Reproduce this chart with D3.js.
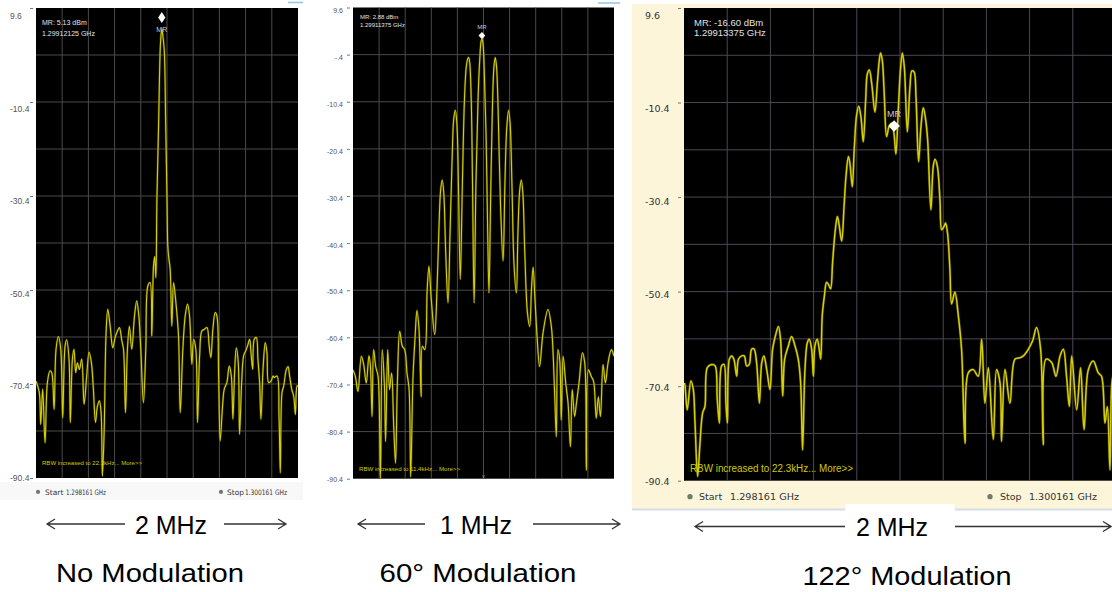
<!DOCTYPE html>
<html>
<head>
<meta charset="utf-8">
<script src="https://cdn.jsdelivr.net/npm/d3@7"></script>
<style>
  body { margin: 0; background: #fff; }
  svg { display: block; }
</style>
</head>
<body>
<div id="svg-container"></div>
<script>
////////////////////////////////////////////////////////////////////
////////////////////////////  Data  ////////////////////////////////
// frequency offset from start (kHz), level (dBm)
const noModTrace = [
  [0,-69.8],[25,-72.2],[36,-79.0],[51,-71.5],[69,-82.9],[87,-70.1],[107,-67.6],[120,-68.0],
  [138,-75.8],[153,-63.0],[171,-60.3],[189,-63.0],[204,-77.6],[222,-62.3],[234,-61.0],[252,-65.1],
  [262,-78.6],[278,-65.1],[290,-63.0],[303,-68.0],[316,-65.9],[331,-67.3],[349,-65.1],[367,-74.7],
  [387,-68.7],[405,-63.6],[423,-65.9],[438,-71.5],[454,-78.6],[469,-75.1],[484,-74.0],[497,-76.5],
  [507,-90.0],[520,-80.7],[535,-59.5],[548,-54.5],[566,-58.1],[586,-62.7],[604,-60.5],[622,-59.1],
  [637,-58.4],[655,-61.2],[668,-63.0],[683,-76.5],[698,-63.0],[713,-58.1],[731,-63.0],[752,-55.9],
  [769,-52.7],[785,-55.9],[800,-63.0],[820,-74.4],[838,-63.0],[854,-49.5],[871,-48.8],[884,-60.2],
  [897,-45.3],[906,-43.3],[915,-47.8],[923,-31],[936,-15],[948,0.7],[955,4],[961,5.13],[967,4],
  [979,0.7],[990,-15],[1000,-31],[1006,-41],[1012,-43.2],[1024,-46.0],[1037,-58.1],[1050,-48.8],
  [1068,-53.1],[1088,-60.2],[1101,-76.5],[1121,-63.0],[1139,-55.9],[1157,-53.4],[1172,-55.9],
  [1190,-66.2],[1203,-60.9],[1220,-63.0],[1233,-78.6],[1249,-64.4],[1266,-59.1],[1284,-58.8],
  [1305,-58.4],[1322,-62.3],[1335,-64.8],[1350,-58.8],[1368,-55.2],[1381,-55.9],[1394,-68.7],
  [1406,-82.5],[1424,-75.1],[1437,-71.5],[1457,-70.1],[1475,-66.6],[1491,-68.7],[1503,-77.9],
  [1516,-68.0],[1529,-62.7],[1544,-65.9],[1554,-81.1],[1570,-70.1],[1585,-64.4],[1600,-63.4],
  [1615,-62.3],[1631,-60.9],[1641,-63.7],[1654,-67.3],[1666,-60.9],[1682,-60.5],[1694,-65.1],
  [1707,-70.1],[1717,-77.9],[1733,-67.3],[1750,-61.6],[1763,-63.7],[1776,-70.1],[1794,-69.8],
  [1809,-68.7],[1819,-69.0],[1840,-68.7],[1855,-77.2],[1865,-89.3],[1878,-72.2],[1891,-70.8],
  [1911,-67.3],[1924,-66.7],[1936,-68.7],[1952,-71.5],[1967,-73.0],[1980,-76.9],[1993,-70.8],[2000,-70.8]
];

const mod60Trace = [
  [0,-67.3],[9,-68.7],[19,-71.9],[32,-64.4],[41,-66.2],[51,-70.1],[61,-64.3],[66,-65.9],[73,-77.2],
  [79,-63.0],[87,-66.6],[96,-68.7],[105,-90.4],[112,-63.0],[120,-70.1],[125,-82.5],[133,-63.0],
  [140,-71.5],[148,-68.0],[156,-79.3],[163,-87.1],[170,-70.1],[179,-59.1],[189,-62.3],[198,-63.0],
  [207,-68.0],[215,-71.5],[221,-90.0],[230,-68.7],[238,-60.2],[245,-54.7],[253,-58.8],[261,-73.0],
  [266,-62.3],[275,-63.0],[284,-50.5],[291,-45.3],[300,-52.4],[313,-59.8],[322,-50],[330,-36],
  [336,-29],[342,-27.0],[348,-30],[355,-42],[364,-53.1],[372,-38],[380,-22],[386,-14],[392,-12.2],
  [398,-15],[404,-28],[411,-48.1],[419,-28],[427,-10],[434,-3],[440,-1.2],[443,-1.0],[447,-2],
  [453,-10],[458,-28],[464,-53.1],[471,-28],[479,-10],[486,-1],[491,2.5],[494,2.9],[498,2],
  [503,-4],[510,-18],[516,-38],[521,-51.0],[527,-32],[534,-12],[540,-3],[545,-1.0],[550,-3],
  [556,-12],[565,-32],[575,-44.2],[582,-28],[589,-16],[596,-12.2],[602,-15],[609,-28],[617,-45],
  [626,-51.0],[632,-38],[639,-29],[645,-27.0],[651,-30],[658,-42],[668,-55],[677,-58.1],[684,-50],
  [690,-45.5],[697,-52],[705,-60],[715,-66.6],[728,-59.5],[747,-54.5],[760,-58.1],[772,-71.5],
  [779,-81.5],[785,-63.0],[792,-65.2],[798,-78],[805,-64.4],[815,-70.1],[824,-74.4],[833,-83.6],
  [840,-71.5],[849,-77.2],[856,-74.4],[866,-70.1],[879,-63.7],[888,-65.9],[894,-88.6],[902,-67.3],
  [913,-68.7],[922,-69.8],[932,-77.6],[940,-73.0],[948,-77.2],[958,-66.2],[967,-70.1],[977,-65.9],
  [990,-63.0],[1000,-64.4]
];

const mod122Trace = [
  [2,-69.7],[5,-70.4],[15,-75.4],[32,-69.3],[43,-71.1],[51,-78.2],[63,-89.5],[74,-82.5],[86,-76.1],
  [97,-74.7],[108,-66.5],[129,-65.8],[144,-66.1],[154,-73.2],[164,-78.2],[174,-66.1],[185,-65.8],
  [194,-74.0],[201,-78.2],[210,-64.7],[221,-64.0],[231,-64.7],[244,-68.3],[252,-64.7],[267,-64.0],
  [279,-64.0],[290,-66.1],[302,-65.8],[313,-62.6],[324,-62.5],[336,-65.4],[349,-74.0],[360,-65.4],
  [370,-64.0],[383,-66.9],[398,-71.1],[410,-62.6],[423,-59.8],[437,-57.8],[447,-60.5],[457,-72.5],
  [466,-64.7],[483,-61.9],[498,-59.9],[514,-61.9],[529,-64.7],[540,-69.7],[549,-83.9],[560,-66.9],
  [571,-61.2],[580,-60.5],[591,-62.6],[599,-68.3],[606,-61.9],[617,-60.5],[626,-62.6],[633,-64.7],
  [640,-55.5],[650,-51.3],[660,-48.4],[671,-49.1],[679,-49.8],[688,-44.2],[699,-38.0],[710,-34.5],
  [719,-36.6],[730,-39.7],[741,-32.4],[750,-26.0],[761,-21.8],[768,-23.2],[779,-28.2],[788,-20.4],
  [799,-13.1],[809,-11.2],[819,-13.4],[830,-18.7],[841,-9.9],[849,-4.3],[858,-3.5],[869,-6.4],
  [884,-12.4],[895,-6.4],[904,-1.5],[910,0.1],[918,-1.5],[927,-8.5],[938,-17.6],[949,-15.5],
  [961,-14.8],[972,-16.9],[981,-21.3],[992,-12.0],[1003,-2.9],[1011,0.1],[1020,-2.9],[1034,-16.6],
  [1046,-7.1],[1055,-3.7],[1065,-3.9],[1074,-9.2],[1086,-22.9],[1097,-15.5],[1108,-11.5],[1119,-14.1],
  [1128,-18.3],[1143,-33.1],[1154,-23.9],[1162,-22.4],[1173,-23.9],[1185,-31.0],[1193,-37.3],
  [1204,-36.6],[1211,-35.9],[1220,-38.0],[1231,-45.6],[1239,-53.0],[1254,-50.5],[1270,-55.5],
  [1285,-62.6],[1301,-82.5],[1316,-67.6],[1339,-66.9],[1362,-68.3],[1378,-60.5],[1393,-74.0],
  [1409,-66.5],[1432,-81.7],[1447,-66.9],[1463,-69.7],[1470,-82.1],[1486,-66.9],[1509,-74.0],
  [1532,-64.7],[1555,-64.4],[1571,-64.0],[1594,-62.6],[1614,-60.8],[1632,-58.0],[1651,-62.6],
  [1663,-82.8],[1676,-64.7],[1702,-65.4],[1722,-68.3],[1741,-64.0],[1756,-62.6],[1771,-68.3],
  [1784,-74.7],[1795,-64.0],[1818,-75.4],[1836,-66.5],[1852,-79.6],[1872,-66.9],[1895,-65.1],
  [1918,-67.6],[1933,-68.3],[1949,-78.2],[1960,-74.7],[1972,-88.1],[1981,-69.7],[1990,-67.5]
];

// markers: [kHz offset, dBm]
const markerPoints = [[960.25, 5.13], [494, 2.88], [972.75, -16.60]];
const markerTexts = [
  ["MR: 5.13 dBm", "1.29912125 GHz"],
  ["MR: 2.88 dBm", "1.29911375 GHz"],
  ["MR: -16.60 dBm", "1.29913375 GHz"]
];
const rbwTexts = [
  "RBW increased to 22.3kHz... More>>",
  "RBW increased to 11.4kHz... More>>",
  "RBW increased to 22.3kHz... More>>"
];
const startStop = ["1.298161 GHz", "1.300161 GHz"];
const spans = ["2 MHz", "1 MHz", "2 MHz"];
const titles = ["No Modulation", "60° Modulation", "122° Modulation"];

// level axis
const refLevel = 9.6, bottomLevel = -90.4;
const sparseTicks = [9.6, -10.4, -30.4, -50.4, -70.4, -90.4];
const fullTicks = [9.6, -0.4, -10.4, -20.4, -30.4, -40.4, -50.4, -60.4, -70.4, -80.4, -90.4];
const tickLabel = (d) => (d === -0.4 ? "-.4" : String(d));

////////////////////////////////////////////////////////////////////
////////////////////////////  Init  ////////////////////////////////
const W = 1112, H = 592;
const svg = d3.select("#svg-container").append("svg").attr("width", W).attr("height", H);

// panel 3 cream window
svg.append("rect").attr("x", 632).attr("y", 4).attr("width", W - 632).attr("height", 505).attr("fill", "#fcf5da");
svg.append("line").attr("x1", 632).attr("x2", W).attr("y1", 509.5).attr("y2", 509.5).attr("stroke", "#d3dde8").attr("stroke-width", 2);
svg.append("rect").attr("x", 845).attr("y", 504).attr("width", 110).attr("height", 12).attr("fill", "#fff");
// panel 1 footer strip
svg.append("rect").attr("x", 0).attr("y", 482).attr("width", 303).attr("height", 18).attr("fill", "#f8f8f8");
// window fragments
svg.append("line").attr("x1", 288).attr("x2", 303).attr("y1", 2.5).attr("y2", 2.5).attr("stroke", "#8fc3ea").attr("stroke-width", 1.5);
svg.append("line").attr("x1", 598).attr("x2", 620).attr("y1", 3).attr("y2", 3).attr("stroke", "#8fc3ea").attr("stroke-width", 1.5);

const panels = [
  {
    trace: noModTrace, marker: markerPoints[0], mtext: markerTexts[0], rbw: rbwTexts[0],
    xDomain: [0, 2000], left: 36, right: 298, top: 8, bottom: 478, clipRight: 298,
    ticks: sparseTicks, labelShift: 8, labelX: 10, anchor: "start", labelFont: 8.5, labelColor: "#555",
    grid: "#4a4a4a", gridBright: "#b5b5b5", traceW: 1.1,
    mFont: 7, mLine: 10.5, mX: 42, mY: 25, mMRabove: false, diamond: [3.6, 5.5], mrFont: 7,
    rbwFont: 6, rbwLen: 100, rbwY: 465,
    footer: { y: 494.5, font: 7.5, items: [[38, "Start", 45, 66, 40], [221, "Stop", 227, 245, 42]] },
    sFont: 25, span: spans[0], spanX: 171, arrows: [[47, 125], [224, 286]], arrowY: 524, spanY: 534,
    title: titles[0], titleX: 150, titleY: 582, titleLen: 188
  },
  {
    trace: mod60Trace, marker: markerPoints[1], mtext: markerTexts[1], rbw: rbwTexts[1],
    xDomain: [0, 1000], left: 353, right: 614, top: 7.5, bottom: 478.7, clipRight: 614,
    ticks: fullTicks, labelShift: 3, labelX: 343, anchor: "end", labelFont: 7, labelColor: "#555",
    grid: "#4a4a4a", gridBright: "#b5b5b5", traceW: 1.1,
    mFont: 6, mLine: 8, mX: 360, mY: 19, mMRabove: true, diamond: [3.4, 3.6], mrFont: 6,
    rbwFont: 6, rbwLen: 101, rbwY: 471,
    footer: null,
    sFont: 25, span: spans[1], spanX: 476, arrows: [[358, 425], [533, 620]], arrowY: 524, spanY: 534,
    title: titles[1], titleX: 478, titleY: 582, titleLen: 197
  },
  {
    trace: mod122Trace, marker: markerPoints[2], mtext: markerTexts[2], rbw: rbwTexts[2],
    xDomain: [0, 2000], left: 684, right: 1116, top: 8, bottom: 480.7, clipRight: W,
    ticks: sparseTicks, labelShift: 7, labelX: 645, anchor: "start", labelFont: 9.5, labelColor: "#333",
    grid: "#4d4654", gridBright: "#cbc3cd", traceW: 1.5,
    mFont: 9.5, mLine: 10, mX: 694, mY: 25.5, mMRabove: true, diamond: [5.8, 5.8], mrFont: 9,
    rbwFont: 10, rbwLen: 163, rbwY: 471.5,
    footer: { y: 500, font: 9.5, items: [[690, "Start", 699, 730, 69], [990, "Stop", 1000, 1029, 68]] },
    sFont: 25, span: spans[2], spanX: 892, arrows: [[695, 845], [955, 1111]], arrowY: 526.5, spanY: 536,
    title: titles[2], titleX: 907, titleY: 585, titleLen: 209
  }
];

////////////////////////////////////////////////////////////////////
////////////////////////////  Draw  ////////////////////////////////
panels.forEach((p, i) => {
  const g = svg.append("g");
  const xScale = d3.scaleLinear().domain(p.xDomain).range([p.left, p.right]);
  const yScale = d3.scaleLinear().domain([bottomLevel, refLevel]).range([p.bottom, p.top]);
  const yLabel = d3.scaleLinear().domain([bottomLevel, refLevel]).range([p.bottom, p.top + p.labelShift]);
  const plotR = Math.min(p.right, p.clipRight);

  // screen
  g.append("rect")
    .attr("x", p.left).attr("y", p.top)
    .attr("width", plotR - p.left).attr("height", p.bottom - p.top)
    .attr("fill", "#000");

  // grid
  const span = p.xDomain[1] - p.xDomain[0];
  const vLines = d3.range(1, 10).map((k) => p.xDomain[0] + (k * span) / 10).filter((v) => xScale(v) < plotR);
  g.selectAll(".vgrid").data(vLines).join("line")
    .attr("x1", (d) => xScale(d)).attr("x2", (d) => xScale(d))
    .attr("y1", p.top).attr("y2", p.bottom)
    .attr("stroke", p.grid).attr("stroke-width", 1);
  const hLines = d3.range(1, 10).map((k) => refLevel - 10 * k);
  g.selectAll(".hgrid").data(hLines).join("line")
    .attr("x1", p.left).attr("x2", plotR)
    .attr("y1", (d) => yScale(d)).attr("y2", (d) => yScale(d))
    .attr("stroke", (d) => (d === -0.4 ? p.gridBright : p.grid))
    .attr("stroke-width", (d) => (d === -0.4 ? 1.4 : 1));

  // trace
  const clipId = "clip" + i;
  svg.append("clipPath").attr("id", clipId).append("rect")
    .attr("x", p.left).attr("y", p.top).attr("width", plotR - p.left).attr("height", p.bottom - p.top);
  const line = d3.line()
    .curve(d3.curveCatmullRom.alpha(0.5))
    .x((d) => xScale(d[0]))
    .y((d) => yScale(d[1]));
  const tg = g.append("g").attr("clip-path", `url(#${clipId})`);
  tg.append("path").datum(p.trace).attr("d", line)
    .attr("fill", "none").attr("stroke", "#5f5a00").attr("stroke-width", p.traceW + 1.2).attr("stroke-opacity", 0.6);
  tg.append("path").datum(p.trace).attr("d", line)
    .attr("fill", "none").attr("stroke", "#d6cf08").attr("stroke-width", p.traceW);

  // level axis
  const axis = d3.axisLeft(yScale).tickValues(p.ticks).tickFormat(tickLabel).tickSize(3).tickPadding(0);
  const ax = g.append("g").attr("transform", `translate(${p.left - 3},0)`).call(axis);
  ax.select(".domain").remove();
  ax.selectAll(".tick line").attr("stroke", "#777");
  ax.selectAll(".tick text")
    .attr("x", p.labelX - (p.left - 3))
    .attr("y", (d) => yLabel(d) - yScale(d))
    .attr("dy", "0.35em")
    .attr("text-anchor", p.anchor)
    .attr("fill", p.labelColor)
    .style("font-family", p.labelFont < 9 ? "'Liberation Sans', Arial, sans-serif" : "'DejaVu Sans', Verdana, sans-serif")
    .style("font-size", p.labelFont + "px");

  // marker readout
  g.selectAll(".mtext").data(p.mtext).join("text")
    .attr("x", p.mX).attr("y", (d, k) => p.mY + k * p.mLine)
    .attr("fill", "#e2e2e2")
    .style("font-family", "'Liberation Sans', Arial, sans-serif")
    .style("font-size", p.mFont + "px")
    .text((d) => d);

  // marker diamond, bottom tip on the trace level
  const mx = xScale(p.marker[0]);
  const my = yScale(p.marker[1]) - (i === 0 ? 6 : 0);
  const [dw, dh] = p.diamond;
  g.append("path")
    .attr("d", `M${mx},${my} L${mx + dw},${my - dh} L${mx},${my - 2 * dh} L${mx - dw},${my - dh} Z`)
    .attr("fill", "#fff");
  g.append("text")
    .attr("x", mx).attr("y", p.mMRabove ? my - 2 * dh - 3 : my + p.mrFont + 2)
    .attr("text-anchor", "middle")
    .attr("fill", "#c8c8d0")
    .style("font-family", "'Liberation Sans', Arial, sans-serif")
    .style("font-size", p.mrFont + "px")
    .text("MR");

  // RBW note
  g.append("text")
    .attr("x", p.left + 6).attr("y", p.rbwY)
    .attr("textLength", p.rbwLen).attr("lengthAdjust", "spacingAndGlyphs")
    .attr("fill", "#cfcb00")
    .style("font-family", "'Liberation Sans', Arial, sans-serif")
    .style("font-size", p.rbwFont + "px")
    .text(p.rbw);

  if (i === 1) {
    g.append("text").attr("x", xScale(500)).attr("y", p.bottom - 1)
      .attr("text-anchor", "middle").attr("fill", "#999")
      .style("font-family", "'Liberation Sans', Arial, sans-serif").style("font-size", "6px").text("v");
  }

  // start / stop footer
  if (p.footer) {
    p.footer.items.forEach((it, k) => {
      g.append("circle").attr("cx", it[0]).attr("cy", p.footer.y - p.footer.font * 0.35).attr("r", p.footer.font * 0.28)
        .attr("fill", "#6f7c6a");
      g.append("text").attr("x", it[2]).attr("y", p.footer.y).attr("fill", "#333")
        .style("font-family", "'DejaVu Sans', Verdana, sans-serif").style("font-size", p.footer.font + "px")
        .text(it[1]);
      g.append("text").attr("x", it[3]).attr("y", p.footer.y).attr("fill", "#333")
        .attr("textLength", it[4]).attr("lengthAdjust", "spacingAndGlyphs")
        .style("font-family", "'DejaVu Sans', Verdana, sans-serif").style("font-size", p.footer.font + "px")
        .text(startStop[k]);
    });
  }

  // span annotation with arrows
  const [la, ra] = p.arrows;
  const ay = p.arrowY;
  const arrowPath = (x0, x1, headAt) => {
    const hx = headAt === "left" ? x0 : x1;
    const dir = headAt === "left" ? 1 : -1;
    return `M${x0},${ay} L${x1},${ay} M${hx + dir * 8},${ay - 5} L${hx},${ay} L${hx + dir * 8},${ay + 5}`;
  };
  svg.append("path").attr("d", arrowPath(la[0], la[1], "left"))
    .attr("fill", "none").attr("stroke", "#333").attr("stroke-width", 1.3);
  svg.append("path").attr("d", arrowPath(ra[0], ra[1], "right"))
    .attr("fill", "none").attr("stroke", "#333").attr("stroke-width", 1.3);
  svg.append("text").attr("x", p.spanX).attr("y", p.spanY).attr("text-anchor", "middle")
    .attr("fill", "#000")
    .style("font-family", "'Liberation Sans', Arial, sans-serif").style("font-size", p.sFont + "px")
    .text(p.span);
  svg.append("text").attr("x", p.titleX - p.titleLen / 2).attr("y", p.titleY)
    .attr("textLength", p.titleLen).attr("lengthAdjust", "spacingAndGlyphs")
    .attr("fill", "#000")
    .style("font-family", "'Liberation Sans', Arial, sans-serif").style("font-size", "26.5px")
    .text(p.title);
});
</script>
</body>
</html>
